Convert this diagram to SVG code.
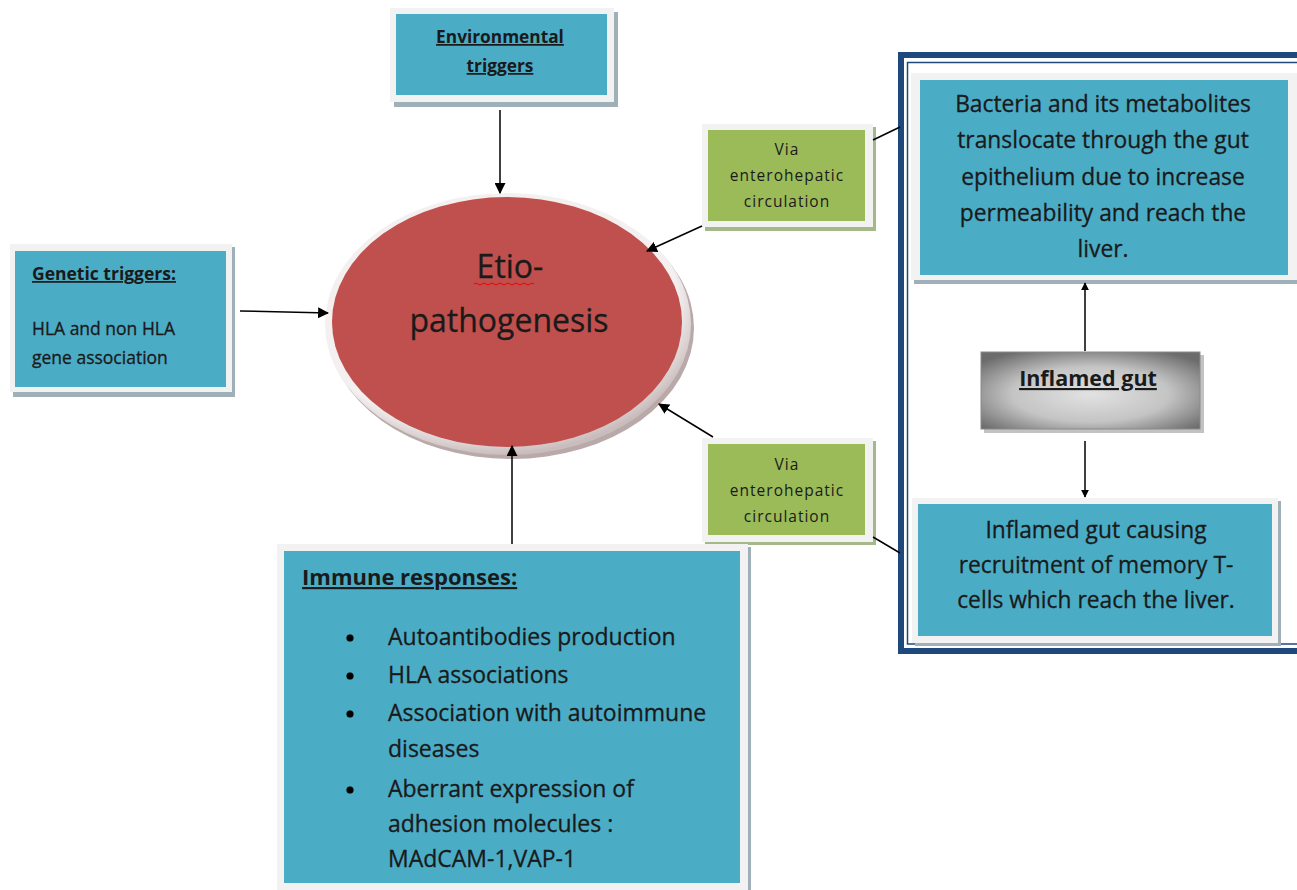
<svg xmlns="http://www.w3.org/2000/svg" width="1297" height="890" viewBox="0 0 1297 890">
<style>
.shadow{fill:#9fb0b8}
.frame{fill:#f2f2f2}
.teal{fill:#4bacc6}
.green{fill:#9bbb59}
.t{font-family:"Open Sans",Lato,sans-serif;fill:#1a1a1a;stroke:#1a1a1a;stroke-width:0.3}
.b{font-weight:bold;text-decoration:underline;stroke-width:0}
.via{font-family:"Open Sans",sans-serif;font-size:15.5px;letter-spacing:1px;fill:#1a1a1a;text-anchor:middle}
.c{stroke:#000;stroke-width:1.5;fill:none}
</style>
<defs>
<marker id="ah" viewBox="0 0 10 10" refX="9" refY="5" markerWidth="8" markerHeight="8" markerUnits="userSpaceOnUse" orient="auto">
<path d="M0,0 L10,5 L0,10 z" fill="#000"/>
</marker>
<marker id="ah2" viewBox="0 0 10 10" refX="9" refY="5" markerWidth="11" markerHeight="11" markerUnits="userSpaceOnUse" orient="auto">
<path d="M0,0 L10,5 L0,10 z" fill="#000"/>
</marker>
<radialGradient id="gray" cx="0.5" cy="0.55" r="0.65">
<stop offset="0" stop-color="#e2e2e2"/>
<stop offset="0.55" stop-color="#c4c4c4"/>
<stop offset="1" stop-color="#6c6c6c"/>
</radialGradient>
<radialGradient id="rim" cx="0.45" cy="0.4" r="0.6">
<stop offset="0.85" stop-color="#f4f0f0"/>
<stop offset="1" stop-color="#c9bcbc"/>
</radialGradient>
</defs>

<g id="liver-frame">
<rect x="901" y="55" width="420" height="596" fill="#fff" stroke="#1f497d" stroke-width="6"/>
<rect x="907.5" y="62.5" width="420" height="581.5" fill="none" stroke="#1f497d" stroke-width="1.5"/>
</g>

<g id="environmental">
<rect class="shadow" x="394" y="12" width="224" height="95"/>
<rect class="frame" x="390" y="8" width="224" height="94"/>
<rect class="teal" x="396" y="14" width="211" height="81"/>
<text class="t b" x="500" y="43" font-size="17.3" text-anchor="middle">Environmental</text>
<text class="t b" x="500" y="72" font-size="17.3" text-anchor="middle">triggers</text>
</g>

<g id="genetic">
<rect class="shadow" x="13" y="247" width="222" height="150"/>
<rect class="frame" x="10" y="244" width="222" height="148"/>
<rect class="teal" x="15" y="251" width="211" height="136"/>
<text class="t b" x="32" y="280" font-size="17.5">Genetic triggers:</text>
<text class="t" x="32" y="335" font-size="17.5">HLA and non HLA</text>
<text class="t" x="32" y="364" font-size="17.5">gene association</text>
</g>

<g id="etio">
<ellipse cx="511" cy="328" rx="183" ry="131" fill="#b9a9a9"/>
<ellipse cx="508" cy="324" rx="183" ry="131" fill="url(#rim)"/>
<ellipse cx="507" cy="322" rx="175" ry="125" fill="#c0504d"/>
<text class="t" x="510" y="278" font-size="32" text-anchor="middle">Etio-</text>
<path d="M474,284 q2,-2 4,0 t4,0 t4,0 t4,0 t4,0 t4,0 t4,0 t4,0 t4,0 t4,0 t4,0 t4,0 t4,0 t4,0 t4,0" fill="none" stroke="#e00" stroke-width="1"/>
<text class="t" x="509" y="332" font-size="32" text-anchor="middle">pathogenesis</text>
</g>

<g id="via1">
<rect x="705" y="127" width="171" height="104" fill="#a4b88a"/>
<rect class="frame" x="702" y="124" width="171" height="103"/>
<rect class="green" x="708" y="130" width="157" height="91"/>
<text class="via" x="787" y="155">Via</text>
<text class="via" x="787" y="181">enterohepatic</text>
<text class="via" x="787" y="207">circulation</text>
</g>

<g id="via2">
<rect x="705" y="441" width="171" height="104" fill="#a4b88a"/>
<rect class="frame" x="702" y="438" width="171" height="104"/>
<rect class="green" x="708" y="444" width="157" height="91"/>
<text class="via" x="787" y="470">Via</text>
<text class="via" x="787" y="496">enterohepatic</text>
<text class="via" x="787" y="522">circulation</text>
</g>

<g id="bacteria">
<rect class="shadow" x="914" y="76" width="383" height="208"/>
<rect class="frame" x="911" y="73" width="386" height="207"/>
<rect class="teal" x="920" y="80" width="368" height="195"/>
<g class="t" font-size="22.8" text-anchor="middle">
<text x="1103" y="112">Bacteria and its metabolites</text>
<text x="1103" y="148">translocate through the gut</text>
<text x="1103" y="185">epithelium due to increase</text>
<text x="1103" y="221">permeability and reach the</text>
<text x="1103" y="257">liver.</text>
</g>
</g>

<g id="inflamed">
<rect x="984" y="355" width="220" height="78" fill="#9a9a9a" opacity="0.6"/>
<rect x="981" y="352" width="219" height="77" fill="url(#gray)" stroke="#8a8a8a" stroke-width="1"/>
<text class="t b" x="1088" y="386" font-size="21.5" text-anchor="middle">Inflamed gut</text>
</g>

<g id="memory">
<rect class="shadow" x="915" y="501" width="366" height="145"/>
<rect class="frame" x="912" y="498" width="366" height="145"/>
<rect class="teal" x="918" y="504" width="354" height="132"/>
<g class="t" font-size="22.8" text-anchor="middle">
<text x="1096" y="538">Inflamed gut causing</text>
<text x="1096" y="573">recruitment of memory T-</text>
<text x="1096" y="608">cells which reach the liver.</text>
</g>
</g>

<g id="immune">
<rect class="shadow" x="280" y="547" width="471" height="343"/>
<rect class="frame" x="277" y="544" width="471" height="346"/>
<rect class="teal" x="284" y="551" width="456" height="332"/>
<text class="t b" x="302" y="585" font-size="22">Immune responses:</text>
<g class="t" font-size="23">
<circle cx="350" cy="638" r="3.5" fill="#000"/>
<text x="388" y="645">Autoantibodies production</text>
<circle cx="350" cy="676" r="3.5" fill="#000"/>
<text x="388" y="683">HLA associations</text>
<circle cx="350" cy="714" r="3.5" fill="#000"/>
<text x="388" y="721">Association with autoimmune</text>
<text x="388" y="757">diseases</text>
<circle cx="350" cy="790" r="3.5" fill="#000"/>
<text x="388" y="797">Aberrant expression of</text>
<text x="388" y="832">adhesion molecules :</text>
<text x="388" y="867">MAdCAM-1,VAP-1</text>
</g>
</g>

<g id="connectors">
<line class="c" x1="500" y1="110" x2="500" y2="193" marker-end="url(#ah2)"/>
<line class="c" x1="240" y1="311" x2="328" y2="313" marker-end="url(#ah2)"/>
<line class="c" x1="702" y1="226" x2="647" y2="251" marker-end="url(#ah2)"/>
<line class="c" x1="873" y1="140" x2="900" y2="127"/>
<line class="c" x1="713" y1="437" x2="659" y2="404" marker-end="url(#ah2)"/>
<line class="c" x1="873" y1="537" x2="900" y2="553"/>
<line class="c" x1="512" y1="544" x2="512" y2="446" marker-end="url(#ah2)"/>
<line class="c" x1="1085" y1="351" x2="1085" y2="283" marker-end="url(#ah)"/>
<line class="c" x1="1085" y1="441" x2="1085" y2="497" marker-end="url(#ah)"/>
</g>
</svg>
